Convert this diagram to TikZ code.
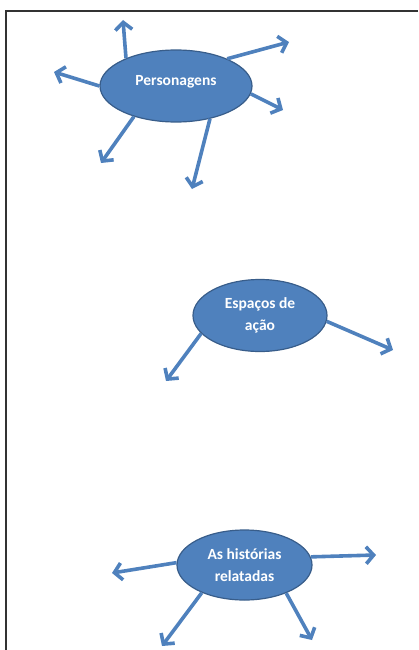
\documentclass[tikz,border=0pt]{standalone}
\usepackage{fontspec}
\setmainfont{Carlito}
\usetikzlibrary{arrows.meta,shapes.geometric}
\definecolor{bubble}{HTML}{4F81BD}
\definecolor{bubbleline}{HTML}{385D8A}
\definecolor{framegray}{HTML}{333333}
\begin{document}
\begin{tikzpicture}[x=1pt,y=-1pt,
	every edge/.style={draw=bubble,line width=3.6pt,
		-{Straight Barb[length=7.5pt,width=17pt]}}]
		\useasboundingbox (0,0) rectangle (418,650);
		\draw[framegray,line width=1.4pt] (418,11) -- (6,11) -- (6,650);
		
		\begin{scope}[every node/.style={ellipse,draw=bubbleline,line width=1.2pt,
			fill=bubble,text=white,inner sep=0pt,align=center,
			font=\bfseries\fontsize{15.5}{22}\selectfont}]
		\node[minimum width=152pt,minimum height=72pt] (pers) at (176,86) {\raisebox{4pt}[\height][\depth]{Personagens}};
		\node[minimum width=134pt,minimum height=72pt] (esp) at (260,315.5) {Espaços de\\ação};
		\node[minimum width=135pt,minimum height=70pt] (hist) at (244.5,565) {As histórias\\relatadas};
		\end{scope}
		
		\coordinate (pu) at (123,20);
		\coordinate (pur) at (289,42);
		\coordinate (pl) at (54,72);
		\coordinate (pr) at (283,110);
		\coordinate (pdl) at (101,163);
		\coordinate (pd) at (192,189);
		\coordinate (edl) at (166,381);
		\coordinate (er) at (393,350);
		\coordinate (hl) at (112,573);
		\coordinate (hr) at (376,555);
		\coordinate (hdl) at (162,646);
		\coordinate (hdr) at (312,640);
		
		\path (pers.151) edge (pu);
		\path (pers.28) edge (pur);
		\path (pers.180) edge (pl);
		\path (pers.-6) edge (pr);
		\path (pers.216) edge (pdl);
		\path (pers.-44) edge (pd);
		\path (esp.197) edge (edl);
		\path (esp.-5) edge (er);
		\path (hist.178) edge (hl);
		\path (hist.7) edge (hr);
		\path (hist.213) edge (hdl);
		\path (hist.-34) edge (hdr);
		\end{tikzpicture}
\end{document}
